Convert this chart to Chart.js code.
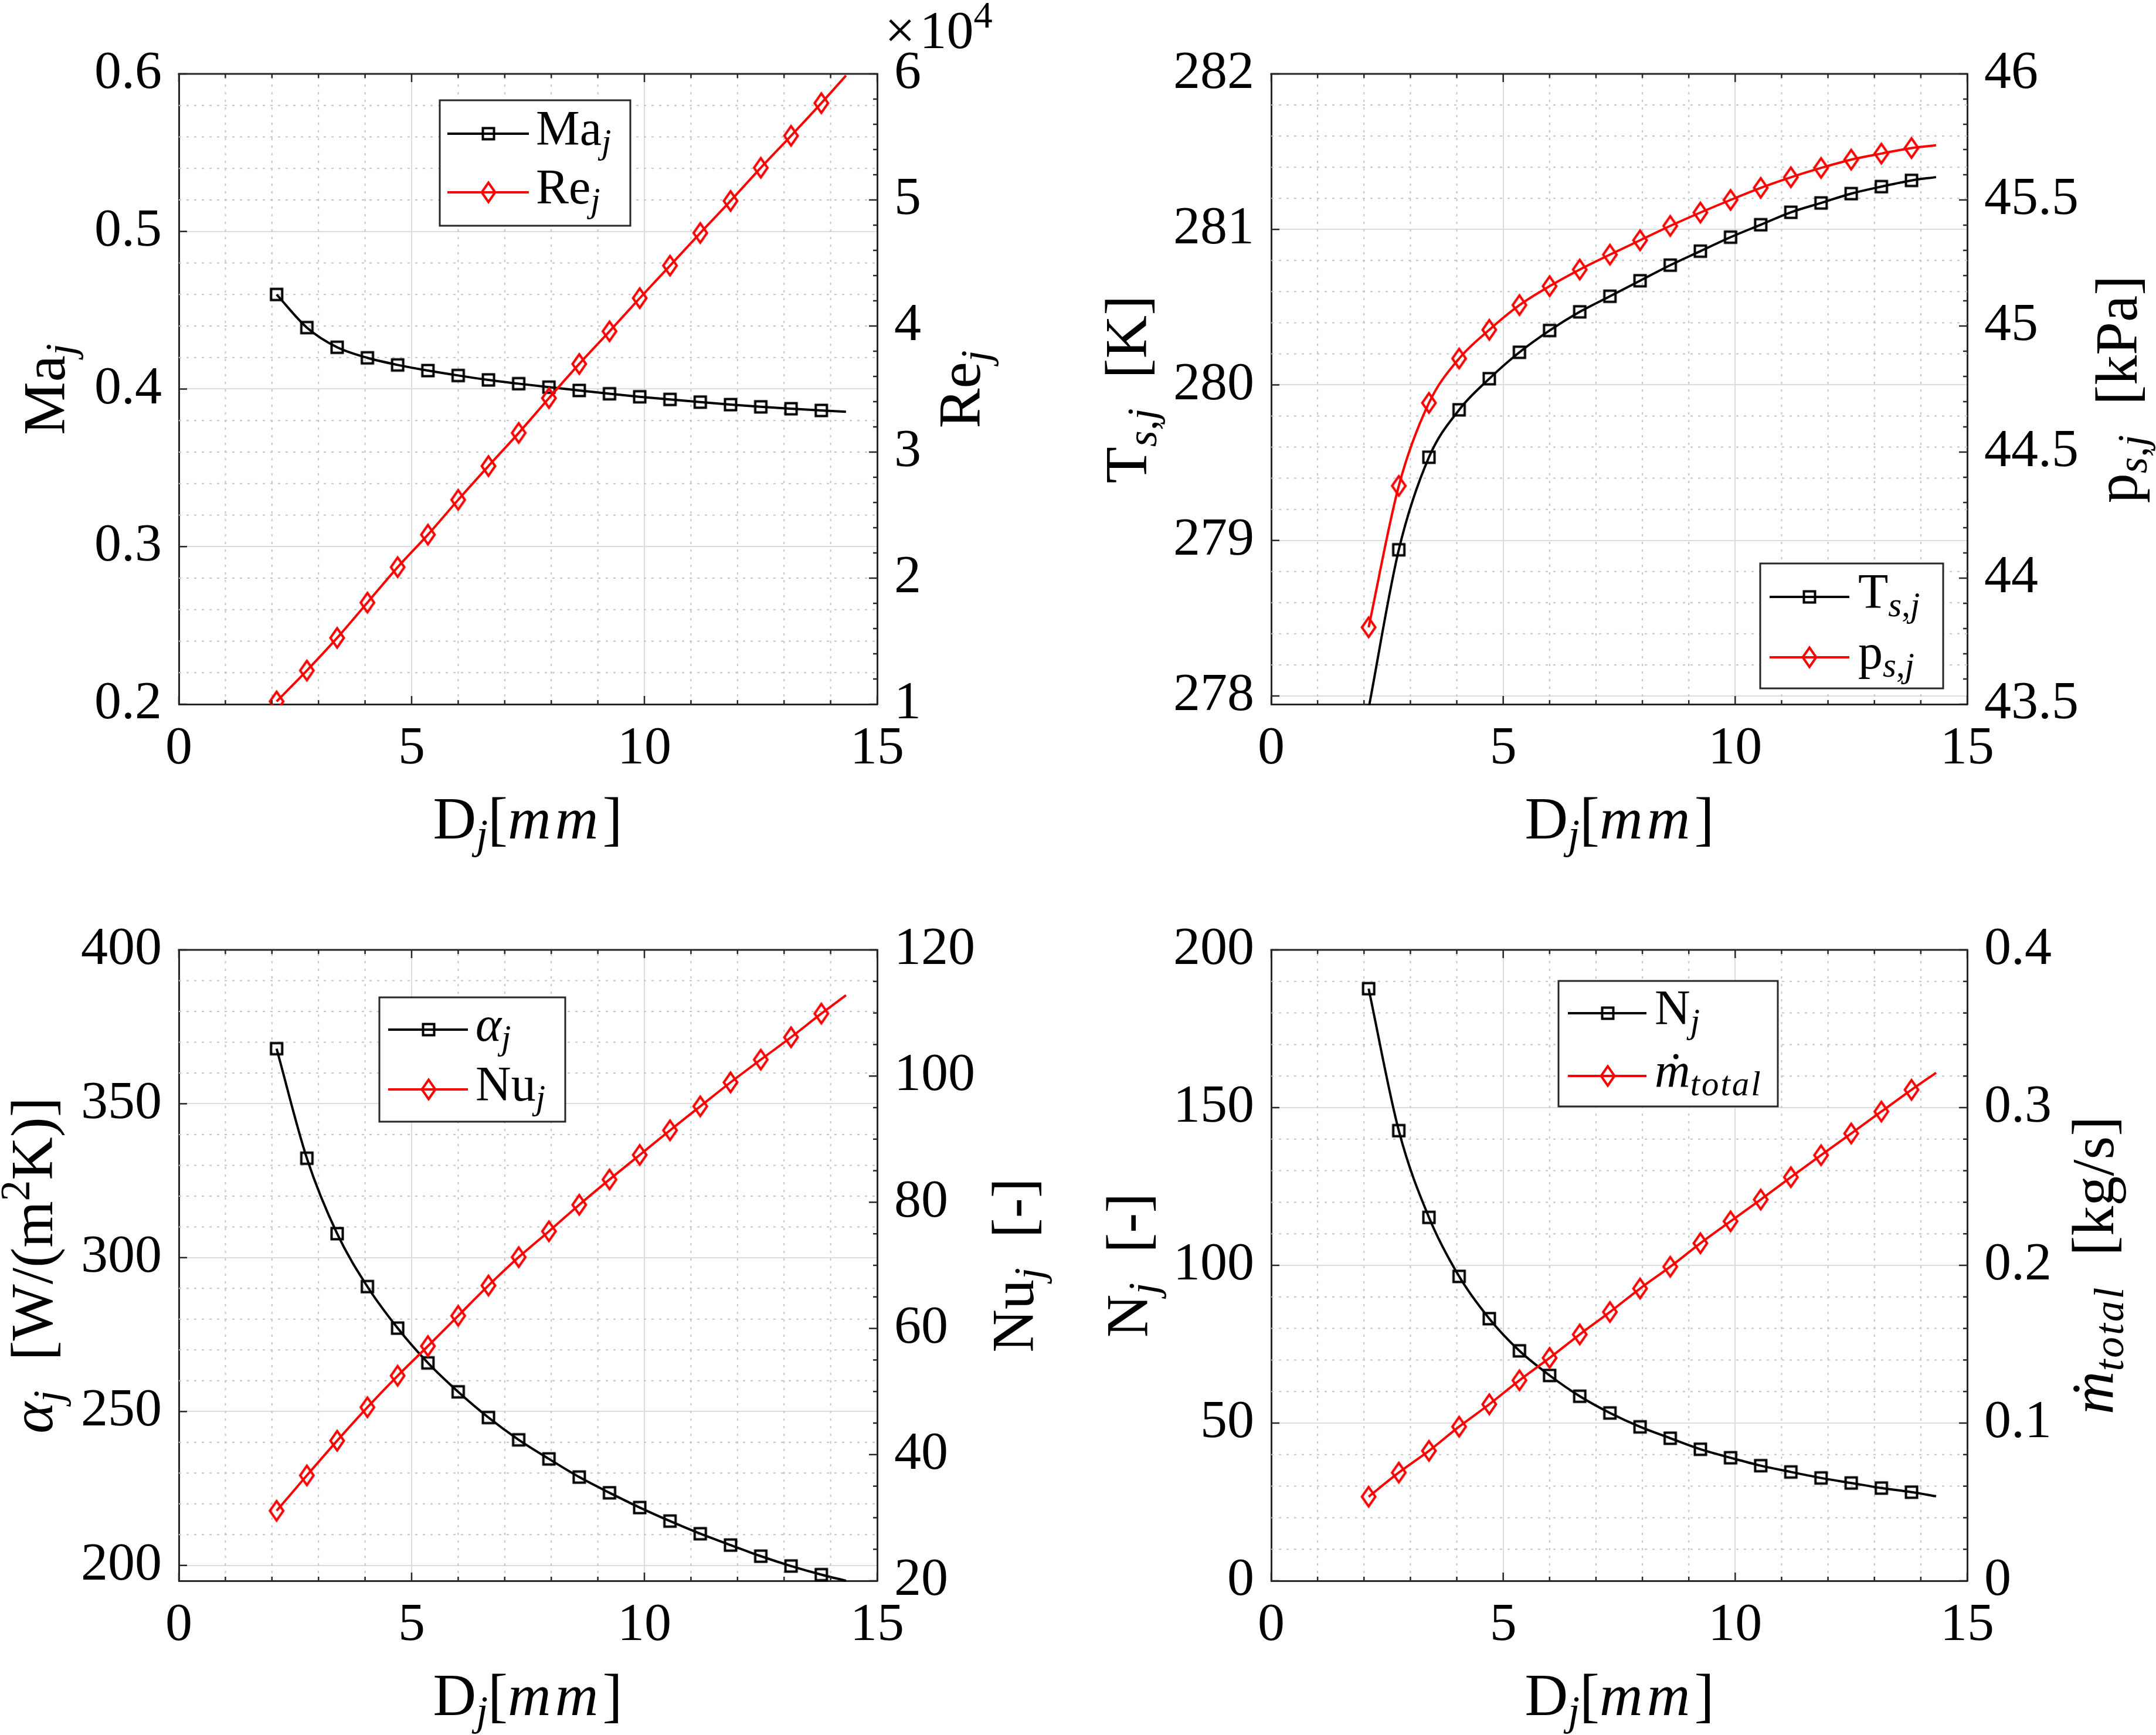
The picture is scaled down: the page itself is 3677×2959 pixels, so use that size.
<!DOCTYPE html>
<html>
<head>
<meta charset="utf-8">
<title>Jet parameters versus jet diameter</title>
<script src="https://cdn.jsdelivr.net/npm/chart.js@4.4.1/dist/chart.umd.min.js"></script>
<style>
  html, body { margin:0; padding:0; background:#ffffff; }
  body { width:3677px; height:2959px; position:relative; overflow:hidden; }
  canvas { position:absolute; }
</style>
</head>
<body>
<canvas id="pTL"></canvas>
<canvas id="pTR"></canvas>
<canvas id="pBL"></canvas>
<canvas id="pBR"></canvas>
<script>
// ---------------- data ----------------
// jet diameter [mm]; markers on all but the last point (end of the curve)
const D_mm = [2.1, 2.75, 3.4, 4.05, 4.7, 5.35, 6.0, 6.65, 7.3, 7.95, 8.6, 9.25, 9.9, 10.55, 11.2, 11.85, 12.5, 13.15, 13.8, 14.33];

const Ma_j   = [0.460, 0.439, 0.4265, 0.4198, 0.4153, 0.4117, 0.4086, 0.4058, 0.4034, 0.4012, 0.3991, 0.3970, 0.3951, 0.3934, 0.3917, 0.3901, 0.3887, 0.3875, 0.3864, 0.3856];
const Re_j   = [10220, 12670, 15260, 18060, 20870, 23450, 26210, 28890, 31520, 34280, 36990, 39580, 42210, 44790, 47380, 49920, 52550, 55090, 57680, 59870];

const Ts_j   = [277.92, 278.94, 279.535, 279.84, 280.04, 280.21, 280.35, 280.47, 280.57, 280.67, 280.77, 280.86, 280.95, 281.03, 281.11, 281.17, 281.23, 281.275, 281.315, 281.336];
const ps_j   = [43.805, 44.366, 44.695, 44.871, 44.985, 45.083, 45.158, 45.224, 45.283, 45.340, 45.397, 45.450, 45.500, 45.548, 45.590, 45.627, 45.660, 45.684, 45.706, 45.717];

const alpha_j = [367.9, 332.3, 307.8, 290.6, 277.1, 265.8, 256.4, 248.05, 240.8, 234.6, 228.7, 223.6, 218.8, 214.4, 210.3, 206.6, 203.0, 199.8, 197.0, 195.0];
const Nu_j    = [31.1, 36.7, 42.2, 47.5, 52.5, 57.2, 62.0, 66.8, 71.3, 75.4, 79.6, 83.6, 87.5, 91.4, 95.2, 99.0, 102.6, 106.15, 109.9, 112.8];

const N_j     = [187.7, 142.7, 115.2, 96.5, 83.1, 72.9, 65.1, 58.5, 53.2, 48.8, 45.2, 41.7, 39.0, 36.5, 34.5, 32.6, 31.0, 29.4, 28.1, 26.8];
const m_total = [0.0533, 0.0686, 0.0824, 0.0977, 0.1119, 0.1271, 0.1413, 0.1562, 0.1704, 0.1853, 0.1991, 0.2140, 0.2279, 0.2417, 0.2559, 0.2698, 0.2836, 0.2975, 0.3113, 0.3221];

// ---------------- tick labels ----------------
const xTicks     = [0, 5, 10, 15];
const maTicks    = [0.2, 0.3, 0.4, 0.5, 0.6];
const reTicks    = [10000, 20000, 30000, 40000, 50000, 60000];
const tTicks     = [278, 279, 280, 281, 282];
const pTicks     = [43.5, 44, 44.5, 45, 45.5, 46];
const alphaTicks = [200, 250, 300, 350, 400];
const nuTicks    = [20, 40, 60, 80, 100, 120];
const nTicks     = [0, 50, 100, 150, 200];
const mTicks     = [0, 0.1, 0.2, 0.3, 0.4];

// ---------------- style ----------------
const FONT = '"Liberation Serif", "DejaVu Serif", "Times New Roman", serif';
const TICK_SIZE = 92, TITLE_SIZE = 102, LEG_SIZE = 84;
const TEXT = '#000000', AXC = '#262626', GRID = '#dddddd', MINOR = '#c2c5c2';
Chart.defaults.font.family = FONT;

function makeMarker(kind) {
  const c = document.createElement('canvas');
  const g = c.getContext('2d');
  if (kind === 'square') {
    c.width = 26; c.height = 26;
    g.strokeStyle = '#000000'; g.lineWidth = 4;
    g.strokeRect(3.5, 3.5, 19, 19);
  } else {
    c.width = 32; c.height = 44;
    g.strokeStyle = '#ff0000'; g.lineWidth = 4; g.lineJoin = 'miter';
    g.beginPath();
    g.moveTo(16, 22 - 16.5); g.lineTo(16 + 11.5, 22); g.lineTo(16, 22 + 16.5); g.lineTo(16 - 11.5, 22);
    g.closePath(); g.stroke();
  }
  return c;
}
const SQ = makeMarker('square'), DM = makeMarker('diamond');

function fontStr(size, it) { return (it ? 'italic ' : '') + size + 'px ' + FONT; }
function drawRich(ctx, segs, x, y, size, align, rot) {
  ctx.save();
  ctx.translate(x, y);
  if (rot) ctx.rotate(rot);
  const parts = segs.map(s => {
    const fs = (s.sub || s.sup) ? size * 0.7 : size;
    const f = fontStr(fs, s.it);
    ctx.font = f;
    const ls = s.ls || 0;
    const chars = Array.from(s.t).map(ch => ({ ch: ch, w: ctx.measureText(ch).width + ls }));
    const w = ls ? chars.reduce((acc, c) => acc + c.w, 0) : ctx.measureText(s.t).width;
    return { t: s.t, f: f, w: w, ls: ls, chars: chars, dy: s.sub ? size * 0.17 : (s.sup ? -size * 0.38 : 0) };
  });
  const total = parts.reduce((acc, p) => acc + p.w, 0);
  let cx = align === 'center' ? -total / 2 : 0;
  ctx.fillStyle = TEXT; ctx.textAlign = 'left'; ctx.textBaseline = 'alphabetic';
  for (const p of parts) {
    ctx.font = p.f;
    if (p.ls) {
      let px = cx;
      for (const c of p.chars) { ctx.fillText(c.ch, px, p.dy); px += c.w; }
    } else {
      ctx.fillText(p.t, cx, p.dy);
    }
    cx += p.w;
  }
  ctx.restore();
}
function minorValues(min, max, step, majors) {
  const out = [];
  const k0 = Math.ceil(min / step - 1e-9), k1 = Math.floor(max / step + 1e-9);
  for (let k = k0; k <= k1; k++) {
    const v = k * step;
    if (!majors.some(m => Math.abs(m - v) < step * 1e-3)) out.push(v);
  }
  return out;
}
function seg(ctx, x1, y1, x2, y2) { ctx.beginPath(); ctx.moveTo(x1, y1); ctx.lineTo(x2, y2); ctx.stroke(); }

const X_MINOR = 1;
const Dj = [{ t: 'D' }, { t: 'j', sub: 1, it: 1 }, { t: '[' }, { t: 'mm', it: 1, ls: 7 }, { t: ']' }];

function makeOverlay(p) {
  const ox = p.cx, oy = p.cy;
  return {
    id: 'matlabStyle',
    beforeDatasetsDraw(chart) {
      const { ctx, chartArea: a, scales } = chart;
      ctx.save();
      ctx.beginPath(); ctx.rect(a.left, a.top, a.right - a.left, a.bottom - a.top); ctx.clip();
      ctx.strokeStyle = MINOR; ctx.lineWidth = 2; ctx.setLineDash([4, 9]);
      for (const v of minorValues(0, 15, X_MINOR, xTicks)) {
        const px = scales.x.getPixelForValue(v); seg(ctx, px, a.bottom, px, a.top);
      }
      for (const v of minorValues(p.yL.min, p.yL.max, p.yL.minor, p.yL.ticks)) {
        const py = scales.yL.getPixelForValue(v); seg(ctx, a.left, py, a.right, py);
      }
      ctx.restore();
    },
    afterDatasetsDraw(chart) {
      const { ctx, chartArea: a, scales } = chart;
      ctx.save();
      ctx.setLineDash([]);
      ctx.strokeStyle = AXC;
      ctx.lineWidth = 3;
      seg(ctx, a.left - 1.5, a.top, a.right + 1.5, a.top);
      ctx.lineWidth = 2.5;
      for (const v of xTicks) {
        const px = scales.x.getPixelForValue(v);
        seg(ctx, px, a.bottom, px, a.bottom - 14); seg(ctx, px, a.top, px, a.top + 14);
      }
      for (const v of minorValues(0, 15, X_MINOR, xTicks)) {
        const px = scales.x.getPixelForValue(v);
        seg(ctx, px, a.bottom, px, a.bottom - 7); seg(ctx, px, a.top, px, a.top + 7);
      }
      for (const v of p.yL.ticks) {
        const py = scales.yL.getPixelForValue(v); seg(ctx, a.left, py, a.left + 14, py);
      }
      for (const v of p.yR.ticks) {
        const py = scales.yR.getPixelForValue(v); seg(ctx, a.right, py, a.right - 14, py);
      }
      for (const v of minorValues(p.yR.min, p.yR.max, p.yR.minor, p.yR.ticks)) {
        const py = scales.yR.getPixelForValue(v); seg(ctx, a.right, py, a.right - 7, py);
      }
      // legend
      const L = p.legend;
      const x1 = L.box[0] - ox, y1 = L.box[1] - oy, x2 = L.box[2] - ox, y2 = L.box[3] - oy;
      ctx.fillStyle = '#ffffff'; ctx.fillRect(x1, y1, x2 - x1, y2 - y1);
      ctx.strokeStyle = AXC; ctx.lineWidth = 3; ctx.strokeRect(x1, y1, x2 - x1, y2 - y1);
      chart.data.datasets.forEach((ds, i) => {
        const ry = L.rows[i] - oy;
        ctx.strokeStyle = ds.borderColor; ctx.lineWidth = ds.borderWidth;
        seg(ctx, L.line[0] - ox, ry, L.line[1] - ox, ry);
        const img = ds.pointStyle;
        ctx.drawImage(img, L.mx - ox - img.width / 2, ry - img.height / 2);
        drawRich(ctx, ds.segs, L.tx - ox, ry + 19, LEG_SIZE, 'left', 0);
      });
      // axis titles and extras
      for (const t of p.titles) {
        drawRich(ctx, t.segs, t.x - ox, t.y - oy, TITLE_SIZE, 'center', t.rot ? -Math.PI / 2 : 0);
      }
      for (const e of (p.extras || [])) {
        drawRich(ctx, e.segs, e.x - ox, e.y - oy, e.size, 'left', 0);
      }
      ctx.restore();
    }
  };
}

function buildPanel(p) {
  const cv = document.getElementById(p.id);
  cv.width = p.W; cv.height = p.H;
  cv.style.left = p.cx + 'px'; cv.style.top = p.cy + 'px';
  cv.style.width = p.W + 'px'; cv.style.height = p.H + 'px';
  const a = p.area;
  const leftW = a.L - p.cx, rightW = p.cx + p.W - a.R, bottomH = p.cy + p.H - a.B, topPad = a.T - p.cy;
  const tickFont = { family: FONT, size: TICK_SIZE };
  const yScale = (ax, pos, width) => ({
    type: 'linear', position: pos, min: ax.min, max: ax.max,
    afterBuildTicks: s => { s.ticks = ax.ticks.map(v => ({ value: v })); },
    afterFit: s => { s.width = width; },
    grid: { display: true, drawOnChartArea: pos === 'left', drawTicks: false, color: GRID, lineWidth: 2 },
    border: { display: true, color: AXC, width: 3 },
    ticks: { font: tickFont, color: TEXT, padding: 29, autoSkip: false, callback: v => ax.fmt(v) }
  });
  const datasets = p.series.map((s, si) => ({
    label: s.label,
    segs: s.segs,
    data: D_mm.map((x, i) => ({ x: x, y: s.data[i] })),
    yAxisID: s.axis,
    borderColor: s.color,
    backgroundColor: s.color,
    borderWidth: 4,
    pointStyle: s.marker,
    pointRadius: c => {
      if (c.dataIndex >= D_mm.length - 1) return 0;
      const ax = p[s.axis];
      const v = c.raw ? c.raw.y : NaN;
      return (v < ax.min || v > ax.max) ? 0 : 12;
    },
    pointHoverRadius: 0,
    cubicInterpolationMode: 'monotone',
    fill: false,
    clip: 2,
    order: si === 0 ? 2 : 1
  }));
  new Chart(cv, {
    type: 'line',
    data: { datasets: datasets },
    options: {
      responsive: false, animation: false, devicePixelRatio: 1, events: [],
      layout: { padding: { top: topPad, left: 0, right: 0, bottom: 0 } },
      plugins: { legend: { display: false }, tooltip: { enabled: false }, title: { display: false } },
      scales: {
        x: {
          type: 'linear', position: 'bottom', min: 0, max: 15,
          afterBuildTicks: s => { s.ticks = xTicks.map(v => ({ value: v })); },
          afterFit: s => { s.height = bottomH; },
          grid: { color: GRID, lineWidth: 2, drawTicks: false },
          border: { display: true, color: AXC, width: 3 },
          ticks: { font: tickFont, color: TEXT, padding: 22, maxRotation: 0, autoSkip: false, callback: v => String(v) }
        },
        yL: yScale(p.yL, 'left', leftW),
        yR: yScale(p.yR, 'right', rightW)
      }
    },
    plugins: [makeOverlay(p)]
  });
}

const panels = [
  {
    id: 'pTL', cx: 0, cy: 0, W: 1838, H: 1479, area: { L: 305, T: 126, R: 1496, B: 1201 },
    yL: { min: 0.2, max: 0.6, ticks: maTicks, minor: 0.02, fmt: v => String(v) },
    yR: { min: 10000, max: 60000, ticks: reTicks, minor: 2000, fmt: v => String(v / 10000) },
    series: [
      { label: 'Ma_j', segs: [{ t: 'Ma' }, { t: 'j', sub: 1, it: 1 }], data: Ma_j, axis: 'yL', color: '#000000', marker: SQ },
      { label: 'Re_j', segs: [{ t: 'Re' }, { t: 'j', sub: 1, it: 1 }], data: Re_j, axis: 'yR', color: '#ff0000', marker: DM }
    ],
    titles: [
      { segs: [{ t: 'Ma' }, { t: 'j', sub: 1, it: 1 }], x: 110, y: 664, rot: true },
      { segs: [{ t: 'Re' }, { t: 'j', sub: 1, it: 1 }], x: 1671, y: 664, rot: true },
      { segs: Dj, x: 900, y: 1430 }
    ],
    extras: [{ segs: [{ t: '\u00d7' }, { t: '\u200a10' }, { t: '4', sup: 1 }], x: 1509, y: 82, size: 92 }],
    legend: { box: [750, 171, 1075, 385], line: [763, 902], mx: 833, tx: 914, rows: [228, 328] }
  },
  {
    id: 'pTR', cx: 1838, cy: 0, W: 1839, H: 1479, area: { L: 2168, T: 126, R: 3355, B: 1201 },
    yL: { min: 277.947, max: 282, ticks: tTicks, minor: 0.2, fmt: v => String(v) },
    yR: { min: 43.5, max: 46, ticks: pTicks, minor: 0.1, fmt: v => String(v) },
    series: [
      { label: 'T_s,j', segs: [{ t: 'T' }, { t: 's', sub: 1, it: 1 }, { t: ',', sub: 1 }, { t: 'j', sub: 1, it: 1 }], data: Ts_j, axis: 'yL', color: '#000000', marker: SQ },
      { label: 'p_s,j', segs: [{ t: 'p' }, { t: 's', sub: 1, it: 1 }, { t: ',', sub: 1 }, { t: 'j', sub: 1, it: 1 }], data: ps_j, axis: 'yR', color: '#ff0000', marker: DM }
    ],
    titles: [
      { segs: [{ t: 'T' }, { t: 's', sub: 1, it: 1 }, { t: ',', sub: 1 }, { t: 'j', sub: 1, it: 1 }, { t: '  [K]' }], x: 1955, y: 664, rot: true },
      { segs: [{ t: 'p' }, { t: 's', sub: 1, it: 1 }, { t: ',', sub: 1 }, { t: 'j', sub: 1, it: 1 }, { t: '  [kPa]' }], x: 3644, y: 664, rot: true },
      { segs: Dj, x: 2762, y: 1430 }
    ],
    legend: { box: [3002, 961, 3314, 1174], line: [3018, 3154], mx: 3086, tx: 3169, rows: [1018, 1121] }
  },
  {
    id: 'pBL', cx: 0, cy: 1479, W: 1838, H: 1480, area: { L: 305, T: 1620, R: 1496, B: 2696 },
    yL: { min: 195, max: 400, ticks: alphaTicks, minor: 10, fmt: v => String(v) },
    yR: { min: 20, max: 120, ticks: nuTicks, minor: 5, fmt: v => String(v) },
    series: [
      { label: 'alpha_j', segs: [{ t: '\u03b1', it: 1 }, { t: 'j', sub: 1, it: 1 }], data: alpha_j, axis: 'yL', color: '#000000', marker: SQ },
      { label: 'Nu_j', segs: [{ t: 'Nu' }, { t: 'j', sub: 1, it: 1 }], data: Nu_j, axis: 'yR', color: '#ff0000', marker: DM }
    ],
    titles: [
      { segs: [{ t: '\u03b1', it: 1 }, { t: 'j', sub: 1, it: 1 }, { t: '  [W/(m' }, { t: '2', sup: 1 }, { t: 'K)]' }], x: 89, y: 2158, rot: true },
      { segs: [{ t: 'Nu' }, { t: 'j', sub: 1, it: 1 }, { t: '  [-]' }], x: 1762, y: 2158, rot: true },
      { segs: Dj, x: 900, y: 2925 }
    ],
    legend: { box: [647, 1701, 964, 1913], line: [662, 798], mx: 731, tx: 811, rows: [1756, 1858] }
  },
  {
    id: 'pBR', cx: 1838, cy: 1479, W: 1839, H: 1480, area: { L: 2168, T: 1620, R: 3355, B: 2696 },
    yL: { min: 0, max: 200, ticks: nTicks, minor: 10, fmt: v => String(v) },
    yR: { min: 0, max: 0.4, ticks: mTicks, minor: 0.02, fmt: v => String(v) },
    series: [
      { label: 'N_j', segs: [{ t: 'N' }, { t: 'j', sub: 1, it: 1 }], data: N_j, axis: 'yL', color: '#000000', marker: SQ },
      { label: 'm_total', segs: [{ t: '\u1e41', it: 1 }, { t: 'total', sub: 1, it: 1, ls: 3 }], data: m_total, axis: 'yR', color: '#ff0000', marker: DM }
    ],
    titles: [
      { segs: [{ t: 'N' }, { t: 'j', sub: 1, it: 1 }, { t: '  [-]' }], x: 1957, y: 2158, rot: true },
      { segs: [{ t: '\u1e41', it: 1 }, { t: 'total', sub: 1, it: 1, ls: 3 }, { t: '  [kg/s]' }], x: 3604, y: 2158, rot: true },
      { segs: Dj, x: 2762, y: 2925 }
    ],
    legend: { box: [2658, 1673, 3032, 1887], line: [2674, 2808], mx: 2742, tx: 2822, rows: [1728, 1835] }
  }
];

panels.forEach(buildPanel);
</script>
</body>
</html>
